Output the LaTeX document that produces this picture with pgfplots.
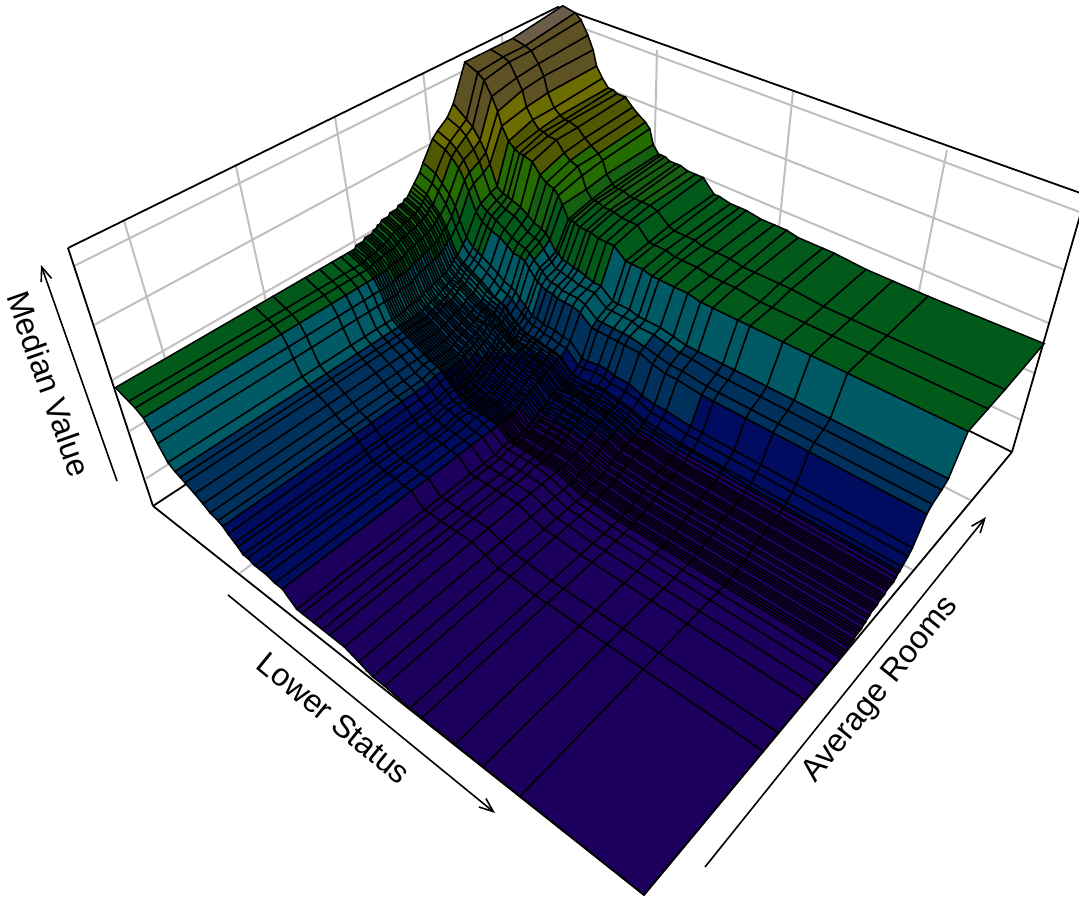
\documentclass[border=0pt]{standalone}
\usepackage{pgfplots}
\pgfplotsset{compat=1.18}
\usepackage{fontspec}
\setmainfont{Liberation Sans}
\usetikzlibrary{arrows.meta}
% grid of Lower Status positions (0 = left corner, 1 = front corner)
\def\Uarr{{0,0.03,0.044,0.06,0.072,0.08,0.094,0.108,0.119,0.129,0.149,0.166,0.18,0.197,0.207,0.216,0.229,0.235,0.244,0.255,0.27,0.28,0.297,0.315,0.332,0.358,0.37,0.395,0.415,0.43,0.462,0.49,0.5168,0.5414,0.5917,0.6154,0.6787,0.7305,0.797,1}}
% perspective of the box: (u,t,h) -> picture position
\gdef\pts{}
\foreach \tv/\rowv in {
1/{100,99,97,92,87,81,77,74,74,73,73,70,68,66,64,58,55,55,55,54,54,54,53,53,53,48,48,47,47,47,46,46,46,45,45,45,44,44,44,45},
0.866/{97,96,95,91,87,81,76,74,73,73,72,69,67,65,63,58,55,54,54,54,53,53,53,53,52,48,47,47,47,46,46,46,45,45,45,45,44,44,44,44},
0.81/{97,96,95,90,86,80,76,73,73,72,72,68,66,65,62,57,54,54,54,53,53,53,52,52,52,47,47,47,46,46,46,45,45,45,44,44,44,44,44,44},
0.747/{97,95,93,88,83,78,73,71,70,70,69,65,63,62,60,57,52,52,52,51,51,51,50,50,50,46,46,46,45,45,45,45,44,44,44,44,44,44,44,44},
0.712/{84,80,78,74,70,66,58,56,56,55,54,52,50,49,48,46,42,42,40,40,39,39,38,37,37,33,33,33,32,32,32,31,30,30,30,30,30,30,30,30},
0.695/{80,78,76,72,68,64,57,55,54,53,52,50,48,47,46,44,41,40,38,38,37,37,36,36,36,32,32,32,32,31,31,30,29,29,28,28,28,28,28,28},
0.67/{77,75,73,70,66,62,55,53,52,51,49,47,46,45,44,42,40,39,37,36,36,35,35,35,34,30,30,30,30,30,29,28,27,27,26,26,26,26,26,26},
0.657/{75,73,71,68,64,60,53,50,49,48,47,45,43,43,42,40,37,36,35,34,34,33,33,33,32,28,28,28,28,28,28,26,25,25,24,24,24,24,24,24},
0.63/{68,66,63,60,56,51,45,42,41,40,38,36,34,33,32,30,28,27,25,25,24,24,24,23,23,18,18,19,19,18,18,16,15,15,14,14,14,14,14,14},
0.62/{65,63,61,57,53,49,43,40,39,38,36,34,32,31,30,28,26,25,24,23,23,22,22,21,21,16,16,17,17,16,16,15,13,13,12,12,12,12,12,12},
0.605/{62,60,57,54,50,46,40,38,37,36,34,32,30,29,28,26,24,23,22,21,21,21,20,20,19,14,14,14,15,15,14,13,11,11,10,10,10,10,10,10},
0.6/{61,59,57,54,50,46,40,38,37,36,34,32,31,30,29,27,25,24,23,22,22,21,21,20,20,15,15,15,15,15,14,13,11,10,10,10,10,9,9,9},
0.595/{60,58,56,53,49,45,39,37,36,35,33,31,30,29,28,26,24,23,22,22,21,21,20,20,19,14,14,14,14,14,13,12,10,10,9,9,9,9,9,9},
0.59/{59,57,55,52,48,44,38,36,35,34,32,30,29,28,27,26,24,23,21,21,21,20,20,19,19,13,13,14,14,13,13,11,9,9,8,8,8,8,8,8},
0.585/{58,56,54,51,47,43,37,35,34,33,31,29,28,27,26,25,23,22,21,20,20,20,19,19,18,13,13,13,13,13,12,11,9,8,7,7,7,7,7,7},
0.58/{58,56,54,51,47,43,37,35,34,33,31,29,28,27,27,25,23,22,21,21,20,20,19,18,18,13,13,13,13,12,12,10,8,8,7,7,7,7,7,7},
0.575/{57,55,53,50,46,42,36,34,34,33,31,29,28,27,27,25,24,23,21,21,20,19,19,18,18,13,13,13,13,13,12,11,8,8,7,7,7,7,7,7},
0.57/{57,55,53,50,46,42,36,34,33,33,31,29,28,27,26,25,24,23,22,21,20,19,19,18,17,12,13,13,13,13,12,10,8,8,7,7,7,7,7,7},
0.565/{57,55,53,50,46,42,36,34,33,32,30,28,27,27,26,25,24,23,22,21,20,19,18,18,17,13,13,14,14,13,12,10,8,8,7,7,7,7,7,7},
0.56/{56,54,52,49,45,41,35,33,32,31,29,27,26,26,26,25,23,22,21,20,19,19,18,17,17,12,12,13,13,12,11,9,7,7,6,6,6,6,6,6},
0.555/{56,54,52,49,45,41,35,33,32,31,29,27,26,26,26,24,23,22,21,20,19,18,18,17,16,12,12,12,12,11,11,9,7,7,6,6,6,6,6,6},
0.55/{56,54,52,49,45,41,35,33,31,30,28,27,26,25,24,23,22,21,20,19,19,18,17,17,16,12,12,12,12,12,11,9,7,7,6,6,6,6,6,6},
0.545/{56,54,52,49,45,41,35,32,31,30,28,26,25,25,24,22,21,20,20,19,18,18,17,16,16,12,12,12,12,12,10,9,7,7,6,6,6,6,6,6},
0.54/{55,53,51,48,44,40,34,32,31,30,28,26,25,24,23,22,21,20,19,18,17,17,16,16,15,10,11,11,11,11,10,8,6,6,5,5,5,5,5,5},
0.535/{55,53,51,48,44,40,34,31,30,30,28,26,25,24,23,22,20,19,18,18,17,17,16,15,15,10,10,11,11,11,9,8,6,6,5,5,5,5,5,5},
0.53/{55,53,51,48,44,40,34,31,30,30,27,25,24,23,23,21,19,18,18,17,17,16,15,15,14,9,10,10,10,10,9,8,6,6,5,5,5,5,5,5},
0.525/{55,53,51,48,44,40,34,31,30,29,27,25,24,23,22,21,19,18,17,17,16,16,15,14,14,9,9,10,10,10,9,8,6,6,5,5,5,5,5,5},
0.52/{54,52,50,47,43,39,33,31,30,29,27,25,24,23,22,20,18,17,17,16,15,15,14,13,13,9,9,9,9,9,8,7,5,5,4,4,4,4,4,4},
0.515/{54,52,50,47,43,39,33,30,29,28,26,24,23,22,21,20,18,17,16,16,15,14,14,13,13,8,8,9,9,9,8,6,5,5,4,4,4,4,4,4},
0.51/{53,51,49,46,42,38,32,30,29,28,26,24,23,22,21,19,17,16,15,15,14,14,13,13,12,8,8,8,8,8,7,6,4,4,3,3,3,3,3,3},
0.505/{53,51,49,46,42,38,32,30,29,28,26,24,22,21,21,19,17,16,15,14,14,13,13,12,12,7,8,8,8,8,7,5,4,4,3,3,3,3,3,3},
0.5/{52,50,49,46,42,38,32,29,28,27,25,23,22,21,20,18,16,15,14,14,13,13,12,12,11,7,7,7,7,7,7,5,3,3,2,2,2,2,2,2},
0.495/{52,50,49,46,42,38,32,29,28,27,25,23,21,20,20,18,16,15,14,13,13,12,12,11,11,6,7,7,7,7,6,4,3,3,2,2,2,2,2,2},
0.49/{52,50,49,46,42,38,32,29,28,27,25,23,21,20,19,17,15,14,13,13,12,12,11,11,10,6,6,6,6,6,6,4,3,3,2,2,2,2,2,2},
0.485/{52,50,49,46,42,38,32,29,28,27,25,23,21,20,19,17,15,14,12,12,11,11,11,10,10,5,6,6,6,6,6,4,3,3,2,2,2,2,2,2},
0.48/{51,49,48,46,42,38,32,29,28,27,25,23,21,20,19,17,15,14,13,12,12,11,11,10,10,6,6,6,6,6,6,4,2,2,1,1,1,1,1,1},
0.475/{51,49,48,45,41,37,31,29,28,27,25,23,21,20,19,17,15,14,12,12,11,11,11,10,10,6,6,6,6,6,6,4,2,2,1,1,1,1,1,1},
0.47/{51,49,48,45,41,37,31,29,28,27,25,23,21,20,19,17,15,14,12,12,11,11,11,10,10,5,6,6,6,5,5,4,2,2,1,1,1,1,1,1},
0.465/{51,49,48,45,41,37,31,29,28,27,25,23,21,20,19,17,15,14,12,12,11,11,11,10,10,5,5,5,5,5,5,4,2,2,1,1,1,1,1,1},
0.46/{50,49,48,45,41,37,31,29,28,27,25,23,21,20,19,17,15,14,13,12,11,11,11,10,10,5,5,5,5,5,5,3,2,2,1,0,0,0,0,0},
0.455/{50,48,47,45,41,37,31,29,28,27,25,23,21,20,19,17,15,14,12,12,11,11,11,10,10,5,5,5,5,5,5,3,1,1,0,0,0,0,0,0},
0.45/{50,48,47,45,41,37,31,29,28,27,25,23,21,20,19,18,15,14,13,12,11,11,11,10,10,6,5,5,5,5,5,3,1,1,0,0,0,0,0,0},
0.445/{50,48,47,45,41,37,31,29,28,27,25,23,22,21,20,18,16,15,13,12,11,11,11,11,10,6,6,6,6,5,5,3,1,1,0,0,0,0,0,0},
0.43/{50,48,47,45,41,37,31,29,28,27,25,23,22,21,20,18,16,15,13,13,12,12,12,11,10,6,6,6,6,6,5,3,1,1,0,0,0,0,0,0},
0.41/{50,48,47,45,41,37,31,29,28,27,25,23,21,20,19,17,15,14,13,13,12,12,11,10,10,5,5,5,5,5,5,3,1,1,0,0,0,0,0,0},
0.384/{50,48,47,45,41,37,31,29,28,27,25,23,21,20,19,17,15,14,12,12,11,11,11,10,10,5,5,5,5,5,5,3,1,1,0,0,0,0,0,0},
0.354/{50,48,47,45,41,37,31,29,28,27,25,23,21,20,19,17,15,14,12,12,11,11,11,10,10,5,5,5,5,5,5,3,1,1,0,0,0,0,0,0},
0.288/{50,48,47,45,41,37,31,29,28,27,25,23,21,20,19,17,15,14,12,12,11,11,11,10,10,5,5,5,5,5,5,3,1,1,0,0,0,0,0,0},
0.252/{50,48,47,45,41,37,31,29,28,27,25,23,21,20,19,17,15,14,12,12,11,11,11,10,10,5,5,5,5,5,5,3,1,1,0,0,0,0,0,0},
0/{50,48,47,45,41,37,31,29,28,27,25,23,21,20,19,17,15,14,12,12,11,11,11,10,10,5,5,5,5,5,5,3,1,1,0,0,0,0,0,0}%
}{%
  \foreach \hv [count=\jv from 0] in \rowv {%
    \pgfmathsetmacro\uv{\Uarr[\jv]}%
    \pgfmathsetmacro\hh{\hv*0.01}%
    \pgfmathsetmacro\dd{1-.2477*\uv+.3024*\tv-.1593*\hh}%
    \pgfmathsetmacro\xx{(155+329.4*\uv+586.1*\tv-97.8*\hh)/\dd}%
    \pgfmathsetmacro\yy{(505+168.2*\uv-202*\tv-296.6*\hh)/\dd}%
    \xdef\pts{\pts (\xx,\yy,0) [\hv]}%
  }%
}
\pgfplotsset{
  mysurf/.style={surf, shader=faceted, faceted color=black, line width=1.5pt,
    mesh/rows=50, mesh/cols=40, mesh/ordering=x varies, z buffer=none, point meta=explicit},
  wall/.style={no marks, color=black!25, line width=2pt, forget plot},
  boxl/.style={no marks, color=black, line width=1.8pt, forget plot},
  arr/.style={no marks, color=black, line width=1.6pt, forget plot, -{Straight Barb[length=14pt,width=11pt]}},
}
\begin{document}
\begin{tikzpicture}
\begin{axis}[
  width=1079pt, height=897pt, scale only axis, hide axis, view={0}{90},
  xmin=0, xmax=1079, ymin=0, ymax=897, zmin=-1, zmax=1, y dir=reverse,
  point meta min=0, point meta max=100,
  colormap={persp}{
    rgb255(0pt)=(29,0,94); rgb255(8.95pt)=(29,0,94);
    rgb255(9pt)=(0,12,96); rgb255(19.45pt)=(0,12,96);
    rgb255(19.5pt)=(0,48,92); rgb255(29.95pt)=(0,48,92);
    rgb255(30pt)=(0,90,102); rgb255(43.45pt)=(0,90,102);
    rgb255(43.5pt)=(2,90,26); rgb255(52.95pt)=(2,90,26);
    rgb255(53pt)=(20,96,16); rgb255(58.95pt)=(20,96,16);
    rgb255(59pt)=(36,108,0); rgb255(65.95pt)=(36,108,0);
    rgb255(66pt)=(80,88,0); rgb255(73.95pt)=(80,88,0);
    rgb255(74pt)=(108,108,0); rgb255(81.95pt)=(108,108,0);
    rgb255(82pt)=(94,82,36); rgb255(97.45pt)=(94,82,36);
    rgb255(97.5pt)=(107,93,74); rgb255(100pt)=(107,93,74)
  },
]
\path (axis cs:0,0,0) (axis cs:1079,897,0);
% grid on walls and floor
\addplot3[wall] coordinates {(124,220.7,0)(200,475.4,0)};
\addplot3[wall] coordinates {(235.8,165.7,0)(291.4,415.3,0)};
\addplot3[wall] coordinates {(335,117.2,0)(374,361,0)};
\addplot3[wall] coordinates {(423.3,73.9,0)(448.6,311.8,0)};
\addplot3[wall] coordinates {(502,35.4,0)(516.2,267.4,0)};
\addplot3[wall] coordinates {(657,50,0)(651.5,272,0)};
\addplot3[wall] coordinates {(793,92,0)(768.5,328.4,0)};
\addplot3[wall] coordinates {(947,150,0)(899.3,391.2,0)};
\addplot3[wall] coordinates {(146.1,478.5,0)(568.4,208.4,0)(1022.4,420.6,0)};
\addplot3[wall] coordinates {(129.9,430.9,0)(567.2,165.2,0)(1035.7,373.7,0)};
\addplot3[wall] coordinates {(112.7,379.9,0)(565.9,119.7,0)(1049.9,323.6,0)};
\addplot3[wall] coordinates {(94.1,325,0)(564.6,71.7,0)(1065,270,0)};
\addplot3[wall] coordinates {(74.2,266,0)(563.2,21,0)(1081.3,212.6,0)};
\addplot3[wall] coordinates {(240.1,572.9,0)(651.5,272,0)};
\addplot3[wall] coordinates {(364.9,672,0)(768.5,328.4,0)};
\addplot3[wall] coordinates {(510,788,0)(899.3,391.2,0)};
\addplot3[wall] coordinates {(912.6,570,0)(448.6,311.8,0)};
\addplot3[wall] coordinates {(970.6,500.3,0)(516.2,267.4,0)};
% back of the box
\addplot3[boxl] coordinates {(153,506,0)(569,233,0)(1012,452,0)};
\addplot3[boxl] coordinates {(68,248,0)(558,7,0)(1086,195,0)};
\addplot3[boxl] coordinates {(153,506,0)(68,248,0)};
\addplot3[boxl] coordinates {(1012,452,0)(1086,195,0)};
% surface
\edef\doplot{\noexpand\addplot3[mysurf] coordinates {\pts};}
\doplot
% front of the box
\addplot3[boxl] coordinates {(153,506,0)(644,895,0)(1012,452,0)};
% axis arrows
\addplot3[arr] coordinates {(117,481,0)(41,265,0)};
\addplot3[arr] coordinates {(228,595,0)(495,813,0)};
\addplot3[arr] coordinates {(705,867,0)(986,517,0)};
\node[rotate=-70.6, font=\fontsize{32}{40}\selectfont] at (axis cs:49,384,0) {Median Value};
\node[rotate=-39.2, font=\fontsize{32}{40}\selectfont] at (axis cs:334,718,0) {Lower Status};
\node[rotate=51.2, font=\fontsize{32}{40}\selectfont] at (axis cs:881,690,0) {Average Rooms};
\end{axis}
\end{tikzpicture}
\end{document}
